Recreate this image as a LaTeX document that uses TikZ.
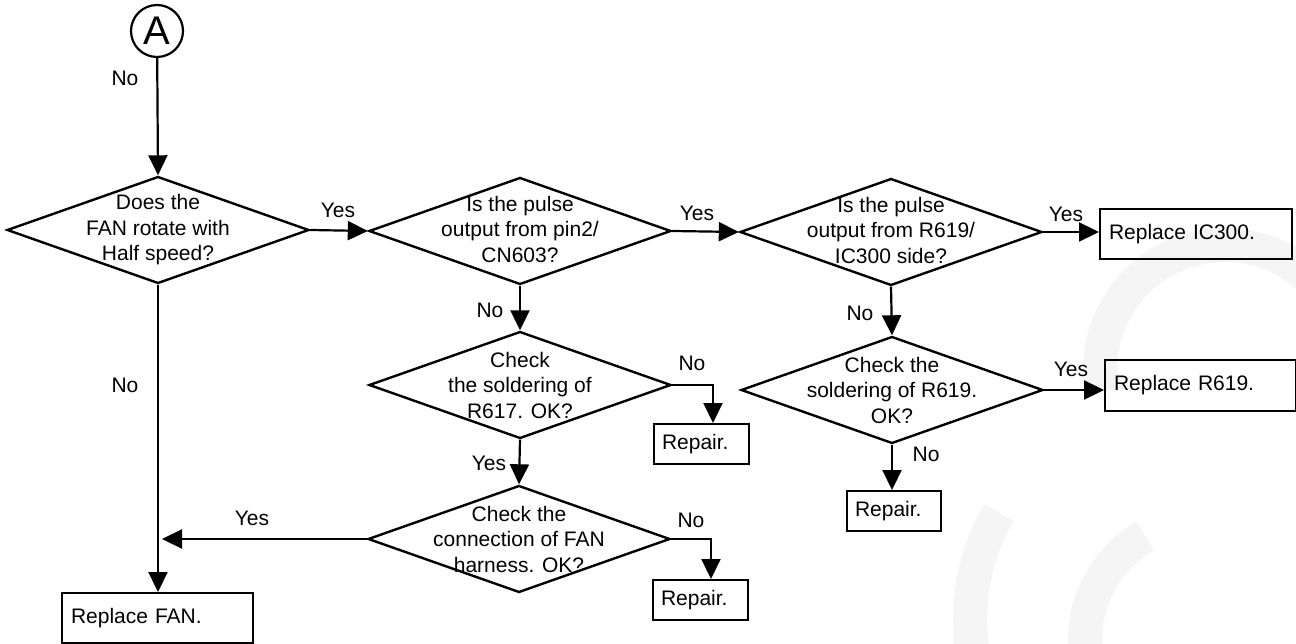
\documentclass[tikz,border=0pt]{standalone}
\usepackage{fontspec}
\setmainfont{Liberation Sans}
\usetikzlibrary{shapes.geometric,arrows.meta,calc}
\begin{document}
\begin{tikzpicture}[x=1pt,y=-1pt,
  every node/.style={font=\fontsize{21}{25.5}\selectfont, inner sep=0pt},
  dia/.style={draw, diamond, line width=2.4pt, minimum width=302pt, minimum height=107pt, inner sep=0pt},
  dtext/.style={align=center},
  box/.style={draw, rectangle, line width=2pt, align=left, inner xsep=9pt, anchor=north west, minimum height=50pt},
  rbox/.style={draw, rectangle, line width=2pt, align=left, inner xsep=8pt, anchor=north west, minimum height=40pt, text width=79pt},
  arr/.style={line width=2.2pt, -{Triangle[length=20pt,width=19pt]}},
  wm/.style={line width=34pt, black!4}
]
\useasboundingbox (0,0) rectangle (1296,644);
% faint watermark
\draw[wm] ([shift={(-190:125)}]1225,370) arc[start angle=-190, end angle=10, radius=125];
\draw[wm] ([shift={(-150:215)}]1185,620) arc[start angle=-150, end angle=-250, radius=215];
\draw[wm] ([shift={(-120:120)}]1205,640) arc[start angle=-120, end angle=-220, radius=120];

% connector start
\node[draw, circle, line width=2.2pt, minimum size=52pt, font=\fontsize{40}{40}\selectfont] (A) at (157,31) {A};

% decisions
\node[dia] (d1) at (158,230) {};
\node[dtext] (t1) at (d1) {Does the\\FAN rotate with\\Half speed?};
\node[dia] (d2) at (520,231) {};
\node[dtext] (t2) at ([yshift=2pt]d2) {Is the pulse\\output from pin2/\\CN603?};
\node[dia] (d3) at (891,232) {};
\node[dtext] (t3) at ([yshift=2pt]d3) {Is the pulse\\output from R619/\\IC300 side?};
\node[dia] (d617) at (520,385) {};
\node[dtext] (t617) at (d617) {Check\\the soldering of\\R617. OK?};
\node[dia] (d4) at (892,390) {};
\node[dtext] (t4) at (d4) {Check the\\soldering of R619.\\OK?};
\node[dia] (d5) at (519,539) {};
\node[dtext] (t5) at (d5) {Check the\\connection of FAN\\harness. OK?};

% boxes
\node[box, text width=173pt] (fan) at (61,592) {Replace FAN.};
\node[box, text width=174pt] (ic) at (1099,208) {Replace IC300.};
\node[box, text width=173pt, minimum height=51pt] (r619) at (1104,359) {Replace R619.};
\node[rbox] (rep1) at (653,423) {Repair.};
\node[rbox] (rep2) at (652,579) {Repair.};
\node[rbox, text width=78pt] (rep3) at (846,490) {Repair.};

\coordinate (j) at (162,539);

% connectors
\draw[arr] (A) -- (d1.north);
\draw[arr] (d1.east) -- (d2.west);
\draw[arr] (d2.east) -- (d3.west);
\draw[arr] (d3.east) -- (d3.east -| ic.west);
\draw[arr] (d2.south) -- (d617.north);
\draw[arr] (d617.east) -| ([xshift=11.5pt]rep1.north);
\draw[arr] (d617.south) -- (d5.north);
\draw[arr] (d5.west) -- (j);
\draw[arr] (d5.east) -| ([xshift=10.5pt]rep2.north);
\draw[arr] (d1.south) -- (d1.south |- fan.north);
\draw[arr] (d3.south) -- (d4.north);
\draw[arr] (d4.east) -- (d4.east -| r619.west);
\draw[arr] (d4.south) -- (d4.south |- rep3.north);

% labels
\node (l1) at (125,78) {No};
\node (l2) at (338,210) {Yes};
\node (l3) at (697,213) {Yes};
\node (l4) at (1066,214) {Yes};
\node (l5) at (490,310) {No};
\node (l6) at (860,313) {No};
\node (l7) at (692,363) {No};
\node (l8) at (489,463) {Yes};
\node (l9) at (125,385) {No};
\node (l10) at (1071,369) {Yes};
\node (l11) at (926,454) {No};
\node (l12) at (252,518) {Yes};
\node (l13) at (691,520) {No};
\end{tikzpicture}
\end{document}
